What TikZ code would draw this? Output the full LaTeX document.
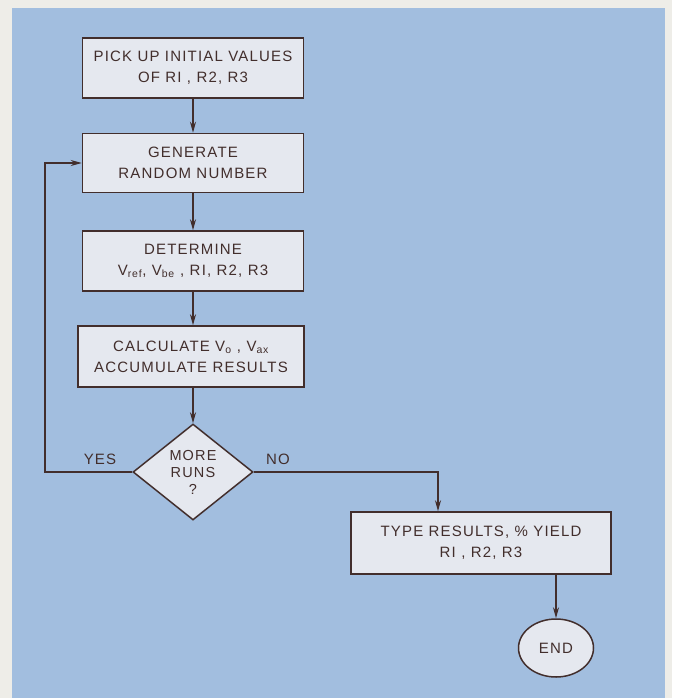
\documentclass[tikz,border=0pt]{standalone}
\usepackage{fontspec}
\setmainfont[LetterSpace=8]{Liberation Sans}
\usepackage{tikz}
\usetikzlibrary{shapes,arrows,positioning,calc,arrows.meta}
\definecolor{mcpaper}{RGB}{238,237,232}
\definecolor{mcblue}{RGB}{162,190,223}
\definecolor{mcbox}{RGB}{229,232,239}
\definecolor{mcink}{RGB}{66,46,44}

\begin{document}
\begin{tikzpicture}[x=1pt, y=-1pt,
		procbox/.style={draw=mcink, fill=mcbox, line width=1.5pt, minimum width=221pt, minimum height=60pt, align=center, text=mcink, font=\fontsize{15}{21}\selectfont},
		decision/.style={draw=mcink, fill=mcbox, line width=1.5pt, diamond, aspect=1.25, inner sep=0pt, minimum width=120pt, minimum height=96pt, align=center, text=mcink, font=\fontsize{14.5}{17}\selectfont},
		terminal/.style={draw=mcink, fill=mcbox, line width=1.5pt, ellipse, inner sep=0pt, minimum width=75pt, minimum height=58pt, text=mcink, font=\fontsize{15}{16}\selectfont},
		flow/.style={draw=mcink, line width=1.5pt, -{Stealth[length=11pt, width=6pt]}},
		answer/.style={text=mcink, font=\fontsize{15}{16}\selectfont}]
		% paper and blue panel
		\useasboundingbox (0,0) rectangle (672,698);
		\fill[mcpaper] (0,0) rectangle (672,698);
		\fill[mcblue] (12,8) rectangle (665,698);
		
		\node[procbox] (pick) at (193,68) {PICK UP INITIAL VALUES\\OF RI , R2, R3};
		\node[procbox, minimum height=59pt] (gen) at (193,163) {GENERATE\\RANDOM NUMBER};
		\node[procbox] (det) at (193,261) {DETERMINE\\V\textsubscript{ref}, V\textsubscript{be} , RI, R2, R3};
		\node[procbox, minimum width=226pt, minimum height=61pt] (calc) at (191,356.5) {CALCULATE V\textsubscript{o} , V\textsubscript{ax}\\ACCUMULATE RESULTS};
		\node[decision] (more) at (193,472) {MORE\\RUNS\\?};
		\node[procbox, minimum width=260pt, minimum height=62pt] (type) at (481,543) {TYPE RESULTS, \% YIELD\\RI , R2, R3};
		\node[terminal] (end) at (556,648) {END};
		
		\coordinate (loopturn) at (45,472);
		\coordinate (noturn) at (438,472);
		
		\draw[flow] (pick) -- (gen);
		\draw[flow] (gen) -- (det);
		\draw[flow] (det) -- (det |- calc.north);
		\draw[flow] (more.north |- calc.south) -- (more.north);
		\draw[flow] (more.west) -- (loopturn) |- (gen.west);
		\draw[flow] (more.east) -- (noturn) -- (noturn |- type.north);
		\draw[flow] (end.north |- type.south) -- (end.north);
		
		\node[answer] (yes) at (100,459) {YES};
		\node[answer] (no) at (278,459) {NO};
	\end{tikzpicture}
\end{document}
